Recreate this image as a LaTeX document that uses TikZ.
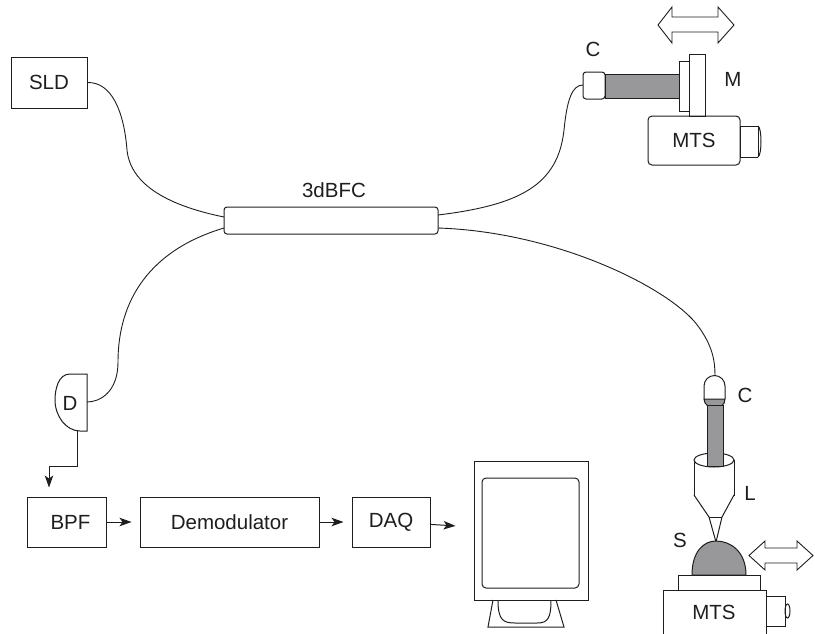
\documentclass[tikz,border=0pt]{standalone}
\usepackage{fontspec}
\setmainfont{Liberation Sans}
\usetikzlibrary{arrows.meta}
\definecolor{rodgray}{RGB}{152,152,154}
\definecolor{ink}{RGB}{30,30,30}
\begin{document}
\begin{tikzpicture}[x=1pt,y=-1pt,line width=1pt,color=ink,
  lbl/.style={font=\fontsize{20.5}{24}\selectfont,inner sep=0pt},
  blk/.style={draw,lbl,minimum height=50pt},
  fiber/.style={line width=0.9pt},
  sig/.style={-{Stealth[length=12pt,width=8.5pt,inset=3pt]}},
  rod/.style={draw,fill=rodgray},
  part/.style={draw,fill=white},
  twoway/.style={draw,fill=white,line width=0.9pt}]
\useasboundingbox (0,0) rectangle (815,633);

% ---------- source and coupler ----------
\node[blk,minimum width=76pt,minimum height=51pt] (sld) at (49,82.5) {SLD};
\node[draw,rounded corners=3pt,minimum width=214pt,minimum height=27pt,inner sep=0pt] (cpl) at (331,220.5) {};
\node[lbl] (cpllabel) at (334,190) {3dBFC};
\coordinate (cplNW) at (224,217);
\coordinate (cplSW) at (224,228);
\coordinate (cplNE) at (438,215);
\coordinate (cplSE) at (438,228);

% ---------- reference arm ----------
\node[draw,rounded corners=3pt,minimum width=22pt,minimum height=27pt,inner sep=0pt] (ctop) at (594,85.5) {};
\coordinate (ctopin) at (583,85);
\draw[rod] (605,74) rectangle (679,98);
\draw[part] (679,61) rectangle (689,111);
\draw[part] (689,54) rectangle (705,116);
\node[draw,rounded corners=4pt,minimum width=92pt,minimum height=49pt,lbl] (mtstop) at (694,140.5) {MTS};
\draw[part] (758,126) -- (740,126) -- (740,157) -- (758,157);
\draw (758,126) .. controls (762,128) and (762,155) .. (758,157);
\draw (758,126) -- (758,157);
\draw[twoway] (658,25) -- (672,7) -- (672,17) -- (718,17) -- (718,7) -- (734,25)
  -- (718,43) -- (718,32) -- (672,32) -- (672,43) -- cycle;
\node[lbl] (clabtop) at (593,49) {C};
\node[lbl] (mlab) at (733,79) {M};

% ---------- sample arm ----------
\coordinate (cbot) at (715,375);
\draw[part] (704,399) -- (704,386) arc[start angle=180,end angle=360,radius=10.5] -- (725,399);
% lens: cylinder and cone
\draw[part] (694,460) -- (694,495) -- (734,495) -- (734,460);
\draw[part] (714,460) ellipse[x radius=20,y radius=7];
\draw[part] (694,495) -- (709,517) -- (716,542) -- (722,517) -- (734,495);
\draw (709,517) -- (722,517);
\draw[rod] (704,399) -- (725,399) .. controls (725,405) and (720,408) .. (715,408)
  .. controls (710,408) and (704,405) .. (704,399) -- cycle;
\draw[rod] (707,405) rectangle (723,466);
% sample on stage
\draw[rod] (692,575) .. controls (692,551) and (704,541) .. (716,541)
  .. controls (731,541) and (746,552) .. (746,575) -- cycle;
\draw[part] (678,575) rectangle (760,590);
\draw (663,640) -- (663,590) -- (766,590) -- (766,640);
\node[lbl] (mtsbot) at (714,612) {MTS};
\draw[part] (766,596) rectangle (785,626);
\draw (787.5,611) ellipse[x radius=2.5,y radius=7];
\draw[twoway] (749,555.5) -- (765,541) -- (765,548) -- (797,548) -- (797,541) -- (813,555.5)
  -- (797,570) -- (797,563) -- (765,563) -- (765,570) -- cycle;
\node[lbl] (clabbot) at (745,395) {C};
\node[lbl] (llab) at (750,493) {L};
\node[lbl] (slab) at (680,540) {S};

% ---------- detector and signal chain ----------
\draw (87,374) -- (70,374) .. controls (58,374) and (55,390) .. (55,400)
  .. controls (55,416) and (66,431) .. (80,431) -- (87,431) -- cycle;
\node[lbl] (det) at (70,403) {D};
\coordinate (detE) at (87,402);
\coordinate (detS) at (77,431);
\coordinate (bend) at (49,466);

\node[blk,minimum width=79pt] (bpf) at (66.5,522) {\hspace*{8pt}BPF};
\node[blk,minimum width=179pt] (demod) at (229.5,522) {Demodulator};
\node[blk,minimum width=78pt] (daq) at (391,522) {DAQ};
\node[draw,minimum width=114pt,minimum height=139pt,inner sep=0pt] (mon) at (531,530.5) {};
\draw[rounded corners=4pt] (482,478) rectangle (579,588);
\draw (493,600) -- (488,627) -- (564,627) -- (556,600);
\draw (498,600) .. controls (498,620) and (503,623) .. (515,623) -- (537,623)
  .. controls (548,623) and (551,618) .. (551,600);

\draw[sig,shorten >=9pt] (detS) |- (bend) -- (bend |- bpf.north);
\draw[sig,shorten >=8pt] (bpf) -- (demod);
\draw[sig,shorten >=8pt] (demod) -- (daq);
\draw[sig,shorten >=18pt] (daq) -- (mon);

% ---------- fibres ----------
\draw[fiber] (sld.east) .. controls (112,82) and (124,112) .. (127,150)
  .. controls (131,190) and (180,208) .. (cplNW);
\draw[fiber] (cplSW) .. controls (150,250) and (118,300) .. (118,362)
  .. controls (118,392) and (100,402) .. (detE);
\draw[fiber] (cplNE) .. controls (520,205) and (558,185) .. (564,130)
  .. controls (567,100) and (572,85) .. (ctopin);
\draw[fiber] (cplSE) .. controls (560,232) and (672,290) .. (698,326)
  .. controls (712,345) and (715,360) .. (cbot);
\end{tikzpicture}
\end{document}
